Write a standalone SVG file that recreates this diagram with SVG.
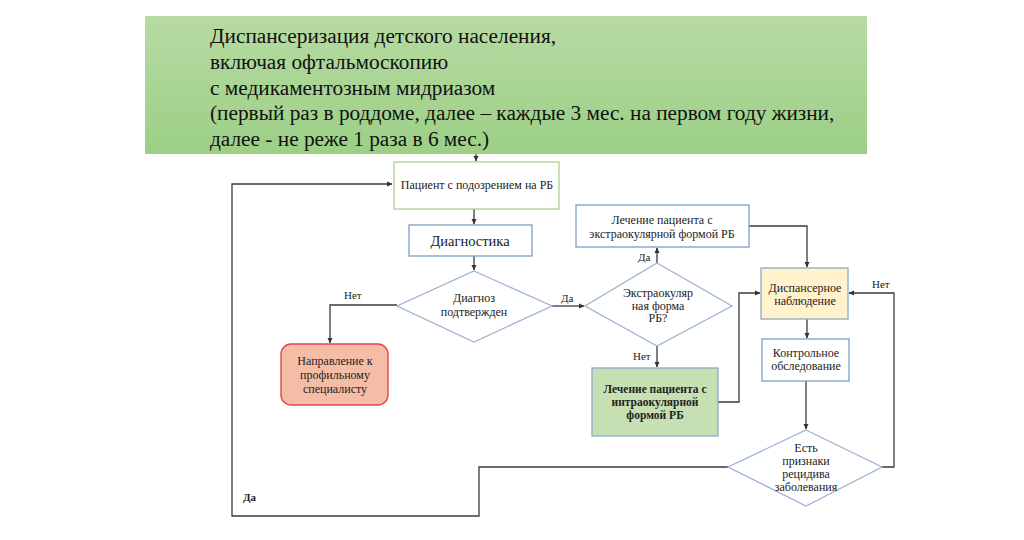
<svg xmlns="http://www.w3.org/2000/svg" width="1024" height="540" viewBox="0 0 1024 540">
<defs>
<linearGradient id="hg" x1="0" y1="0" x2="0" y2="1">
<stop offset="0" stop-color="#b7dba3"/>
<stop offset="1" stop-color="#9ccf86"/>
</linearGradient>
<marker id="ar" markerWidth="6" markerHeight="6" refX="5" refY="3" orient="auto" markerUnits="userSpaceOnUse">
<path d="M0,0.5 L5.5,3 L0,5.5 z" fill="#333"/>
</marker>
<style>
.t{font-family:'Liberation Serif',serif !important;fill:#222;}
.h{font-size:21.3px;fill:#111;}
.s{font-size:12px;text-anchor:middle;}
.b{font-weight:bold;font-size:11.5px;}
.l{font-size:11px;}
.c{fill:none;stroke:#3a3a3a;stroke-width:1.3;}
.bx{fill:#fff;stroke:#7f9fc4;stroke-width:1.3;}
.dm{fill:#fff;stroke:#9cb4d2;stroke-width:1.3;}
</style>
</defs>
<rect width="1024" height="540" fill="#fff"/>

<g id="header">
<rect x="145" y="16" width="722" height="138" fill="url(#hg)"/>
<text style="font-family:'Liberation Serif',serif !important" font-family="Liberation Serif" class="t h" x="210" y="43">Диспансеризация детского населения,</text>
<text style="font-family:'Liberation Serif',serif !important" font-family="Liberation Serif" class="t h" x="210" y="69">включая офтальмоскопию</text>
<text style="font-family:'Liberation Serif',serif !important" font-family="Liberation Serif" class="t h" x="210" y="95">с медикаментозным мидриазом</text>
<text style="font-family:'Liberation Serif',serif !important" font-family="Liberation Serif" class="t h" x="210" y="120">(первый раз в роддоме, далее – каждые 3 мес. на первом году жизни,</text>
<text style="font-family:'Liberation Serif',serif !important" font-family="Liberation Serif" class="t h" x="210" y="146">далее - не реже 1 раза в 6 мес.)</text>
</g>

<g id="connectors">
<path class="c" d="M476,154 V161" marker-end="url(#ar)"/>
<path class="c" d="M474,209 V224" marker-end="url(#ar)"/>
<path class="c" d="M474,256 V270" marker-end="url(#ar)"/>
<path class="c" d="M397,305 H330 V343" marker-end="url(#ar)"/>
<path class="c" d="M552,306 H584" marker-end="url(#ar)"/>
<path class="c" d="M657,263 V248" marker-end="url(#ar)"/>
<path class="c" d="M657,346 V367" marker-end="url(#ar)"/>
<path class="c" d="M749,226 H807 V267" marker-end="url(#ar)"/>
<path class="c" d="M718,402 H739 V293 H760" marker-end="url(#ar)"/>
<path class="c" d="M807,319 V338" marker-end="url(#ar)"/>
<path class="c" d="M806,381 V429" marker-end="url(#ar)"/>
<path class="c" d="M882,467 H894 V293 H849" marker-end="url(#ar)"/>
<path class="c" d="M728,467 H479 V516 H232 V184 H392" marker-end="url(#ar)"/>
<text style="font-family:'Liberation Serif',serif !important" font-family="Liberation Serif" class="t l" x="344" y="299">Нет</text>
<text style="font-family:'Liberation Serif',serif !important" font-family="Liberation Serif" class="t l" x="561" y="302">Да</text>
<text style="font-family:'Liberation Serif',serif !important" font-family="Liberation Serif" class="t l" x="638" y="261">Да</text>
<text style="font-family:'Liberation Serif',serif !important" font-family="Liberation Serif" class="t l" x="633" y="360">Нет</text>
<text style="font-family:'Liberation Serif',serif !important" font-family="Liberation Serif" class="t l" x="872" y="288">Нет</text>
<text style="font-family:'Liberation Serif',serif !important" font-family="Liberation Serif" class="t l" x="243" y="501" font-weight="bold">Да</text>
</g>

<g id="patient">
<rect x="394" y="162" width="165" height="47" fill="#fff" stroke="#a9d18e" stroke-width="1.3"/>
<text style="font-family:'Liberation Serif',serif !important" font-family="Liberation Serif" class="t s" x="477" y="189">Пациент  с подозрением на РБ</text>
</g>

<g id="diagnostika">
<rect class="bx" x="409" y="225" width="123" height="31"/>
<text style="font-family:'Liberation Serif',serif !important;font-size:14.5px" font-family="Liberation Serif" class="t s" x="470" y="246">Диагностика</text>
</g>

<g id="diagnoz">
<polygon class="dm" points="474,271 552,306 474,342 397,306"/>
<text style="font-family:'Liberation Serif',serif !important" font-family="Liberation Serif" class="t s" x="474" y="302">Диагноз</text>
<text style="font-family:'Liberation Serif',serif !important" font-family="Liberation Serif" class="t s" x="474" y="316">подтвержден</text>
</g>

<g id="napravlenie">
<rect x="281" y="344" width="107" height="61" rx="10" fill="#f5bda6" stroke="#e0464c" stroke-width="1.4"/>
<text style="font-family:'Liberation Serif',serif !important" font-family="Liberation Serif" class="t s" x="335" y="365">Направление к</text>
<text style="font-family:'Liberation Serif',serif !important" font-family="Liberation Serif" class="t s" x="335" y="379">профильному</text>
<text style="font-family:'Liberation Serif',serif !important" font-family="Liberation Serif" class="t s" x="335" y="393">специалисту</text>
</g>

<g id="extra_q">
<polygon class="dm" points="657,263 732,306 657,346 585,306"/>
<text style="font-family:'Liberation Serif',serif !important" font-family="Liberation Serif" class="t s" x="658" y="297">Экстраокуляр</text>
<text style="font-family:'Liberation Serif',serif !important" font-family="Liberation Serif" class="t s" x="658" y="310">ная форма</text>
<text style="font-family:'Liberation Serif',serif !important" font-family="Liberation Serif" class="t s" x="658" y="322">РБ?</text>
</g>

<g id="extra_treat">
<rect class="bx" x="576" y="205" width="173" height="42"/>
<text style="font-family:'Liberation Serif',serif !important" font-family="Liberation Serif" class="t s" x="662" y="224">Лечение пациента с</text>
<text style="font-family:'Liberation Serif',serif !important" font-family="Liberation Serif" class="t s" x="662" y="238">экстраокулярной формой РБ</text>
</g>

<g id="intra_treat">
<rect x="592" y="368" width="126" height="68" fill="#c6e0b4" stroke="#8eaac8" stroke-width="1.3"/>
<text style="font-family:'Liberation Serif',serif !important" font-family="Liberation Serif" class="t s b" x="655" y="393">Лечение пациента   с</text>
<text style="font-family:'Liberation Serif',serif !important" font-family="Liberation Serif" class="t s b" x="655" y="406">интраокулярной</text>
<text style="font-family:'Liberation Serif',serif !important" font-family="Liberation Serif" class="t s b" x="655" y="419">формой РБ</text>
</g>

<g id="dispanser">
<rect x="761" y="268" width="87" height="51" fill="#fff2cc" stroke="#8eaac8" stroke-width="1.3"/>
<text style="font-family:'Liberation Serif',serif !important" font-family="Liberation Serif" class="t s" x="805" y="292">Диспансерное</text>
<text style="font-family:'Liberation Serif',serif !important" font-family="Liberation Serif" class="t s" x="805" y="305">наблюдение</text>
</g>

<g id="kontrol">
<rect class="bx" x="762" y="339" width="87" height="42"/>
<text style="font-family:'Liberation Serif',serif !important" font-family="Liberation Serif" class="t s" x="806" y="357">Контрольное</text>
<text style="font-family:'Liberation Serif',serif !important" font-family="Liberation Serif" class="t s" x="806" y="370">обследование</text>
</g>

<g id="recidiv">
<polygon class="dm" points="806,430 882,467 806,506 728,467"/>
<text style="font-family:'Liberation Serif',serif !important" font-family="Liberation Serif" class="t s" x="806" y="452">Есть</text>
<text style="font-family:'Liberation Serif',serif !important" font-family="Liberation Serif" class="t s" x="806" y="465">признаки</text>
<text style="font-family:'Liberation Serif',serif !important" font-family="Liberation Serif" class="t s" x="806" y="478">рецидива</text>
<text style="font-family:'Liberation Serif',serif !important" font-family="Liberation Serif" class="t s" x="806" y="491">заболевания</text>
</g>
</svg>
